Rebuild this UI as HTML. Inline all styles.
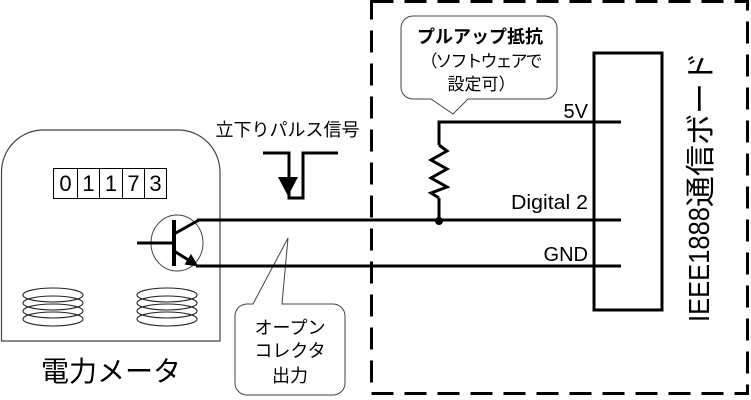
<!DOCTYPE html>
<html>
<head>
<meta charset="utf-8">
<style>
  html,body{margin:0;padding:0;background:#fff;}
  body{width:751px;height:400px;overflow:hidden;}
  svg{display:block;}
  .jp{font-family:"Liberation Sans","Noto Sans CJK JP",sans-serif;}
</style>
</head>
<body>
<svg width="751" height="400" viewBox="0 0 751 400" xmlns="http://www.w3.org/2000/svg">
  <rect x="0" y="0" width="751" height="400" fill="#fff"/>

  <!-- Dashed board boundary -->
  <rect x="371.5" y="1.5" width="376" height="392" fill="none" stroke="#000" stroke-width="3" stroke-dasharray="22 11"/>

  <!-- Meter body -->
  <path d="M1.5,341 V172 A42 42 0 0 1 43.5,130 H178 A42 42 0 0 1 220,172 V341 Z" fill="none" stroke="#444" stroke-width="1.2"/>

  <!-- Digit counter -->
  <rect x="53.5" y="168.5" width="113" height="30" fill="#fff" stroke="#000" stroke-width="1"/>
  <line x1="77.5" y1="168.5" x2="77.5" y2="198.5" stroke="#000" stroke-width="1"/>
  <line x1="99.5" y1="168.5" x2="99.5" y2="198.5" stroke="#000" stroke-width="1"/>
  <line x1="122.5" y1="168.5" x2="122.5" y2="198.5" stroke="#000" stroke-width="1"/>
  <line x1="144.5" y1="168.5" x2="144.5" y2="198.5" stroke="#000" stroke-width="1"/>
  <g class="jp" font-size="22" text-anchor="middle" fill="#000">
    <text x="65.5" y="191">0</text>
    <text x="88.5" y="191">1</text>
    <text x="111" y="191">1</text>
    <text x="133.5" y="191">7</text>
    <text x="155.5" y="191">3</text>
  </g>

  <!-- Coils -->
  <g fill="none" stroke="#222" stroke-width="1.1">
    <ellipse cx="53" cy="295" rx="30" ry="7"/>
    <ellipse cx="53" cy="303" rx="30" ry="7"/>
    <ellipse cx="53" cy="311" rx="30" ry="7"/>
    <ellipse cx="53" cy="319" rx="30" ry="7"/>
    <ellipse cx="167" cy="295" rx="30" ry="7"/>
    <ellipse cx="167" cy="303" rx="30" ry="7"/>
    <ellipse cx="167" cy="311" rx="30" ry="7"/>
    <ellipse cx="167" cy="319" rx="30" ry="7"/>
  </g>

  <!-- Meter label -->
  <text class="jp" x="111" y="381" font-size="28" text-anchor="middle" fill="#000">電力メータ</text>

  <!-- Callouts (drawn before wires) -->
  <path d="M413,16 H545 A12 12 0 0 1 557,28 V87 A12 12 0 0 1 545,99 H468 L453,114 L431,99 H413 A12 12 0 0 1 401,87 V28 A12 12 0 0 1 413,16 Z" fill="#fff" stroke="#444" stroke-width="1"/>
  <text class="jp" x="480" y="43" font-size="18" font-weight="bold" text-anchor="middle" fill="#000">プルアップ抵抗</text>
  <text class="jp" x="480.5" y="67" font-size="17" letter-spacing="-2" text-anchor="middle" fill="#000">（ソフトウェアで</text>
  <text class="jp" x="481.5" y="90" font-size="17" text-anchor="middle" fill="#000">設定可）</text>

  <path d="M247,304 H253 L288,238 L282,304 H333 A12 12 0 0 1 345,316 V383 A12 12 0 0 1 333,395 H247 A12 12 0 0 1 235,383 V316 A12 12 0 0 1 247,304 Z" fill="#fff" stroke="#444" stroke-width="1"/>
  <g class="jp" font-size="18" text-anchor="middle" fill="#000">
    <text x="290" y="334">オープン</text>
    <text x="290" y="357">コレクタ</text>
    <text x="290" y="382">出力</text>
  </g>

  <!-- Transistor -->
  <ellipse cx="177" cy="243" rx="26" ry="28" fill="none" stroke="#444" stroke-width="1"/>
  <line x1="137" y1="243" x2="174" y2="243" stroke="#000" stroke-width="3"/>
  <line x1="174" y1="220" x2="174" y2="266" stroke="#000" stroke-width="4"/>
  <line x1="174" y1="234" x2="199" y2="220" stroke="#000" stroke-width="3"/>
  <line x1="174" y1="251" x2="190" y2="261" stroke="#000" stroke-width="3"/>
  <polygon points="198.5,266.5 184.5,264.5 191,254" fill="#000"/>

  <!-- Wires -->
  <g stroke="#000" stroke-width="3" fill="none">
    <line x1="197" y1="220" x2="621" y2="220"/>
    <line x1="196" y1="266" x2="621" y2="266"/>
    <polyline points="439,198 439,220"/>
    <polyline points="439,145 439,122 621,122"/>
    <polyline points="439,145 447,151 431,160 447,169 431,178 447,187 431,193 439,198" stroke-linejoin="miter"/>
  </g>
  <circle cx="439" cy="221" r="4" fill="#000"/>

  <!-- Board -->
  <rect x="594" y="53" width="68" height="257" fill="none" stroke="#000" stroke-width="3"/>

  <!-- Pin labels -->
  <g font-family="'Liberation Sans',sans-serif" font-size="20" text-anchor="end" fill="#000">
    <text x="588" y="118">5V</text>
    <text x="588" y="209" textLength="77" lengthAdjust="spacingAndGlyphs">Digital 2</text>
    <text x="588" y="261">GND</text>
  </g>

  <!-- Vertical board label -->
  <text font-family="'Liberation Sans',sans-serif" font-size="29" fill="#000" transform="translate(709,322) rotate(-90)" textLength="115" lengthAdjust="spacingAndGlyphs">IEEE1888</text>
  <text class="jp" font-size="30" fill="#000" transform="translate(711,207) rotate(-90)" textLength="155" lengthAdjust="spacingAndGlyphs">通信ボード</text>

  <!-- Falling pulse -->
  <text class="jp" x="287.5" y="136" font-size="18" text-anchor="middle" fill="#000">立下りパルス信号</text>
  <polyline points="263,153 289,153 289,198 303,198 303,153 338,153" fill="none" stroke="#000" stroke-width="3"/>
  <polygon points="278,177 298,177 288,196" fill="#000"/>
</svg>
</body>
</html>
